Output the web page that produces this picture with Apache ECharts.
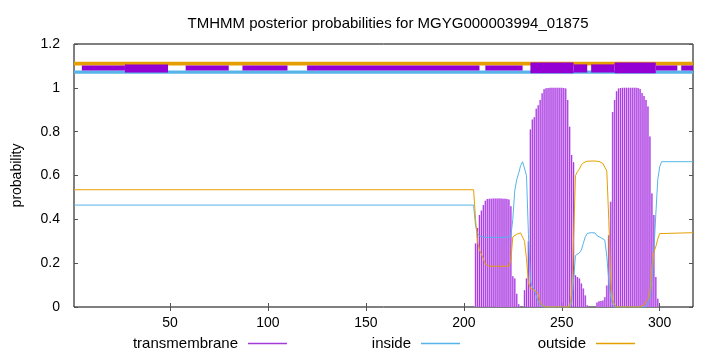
<!DOCTYPE html>
<html>
<head>
<meta charset="utf-8">
<script src="https://cdn.jsdelivr.net/npm/echarts@6/dist/echarts.min.js"></script>
<style>
html,body{margin:0;padding:0;background:#fff;}
#chart{width:720px;height:352px;}
</style>
</head>
<body>
<div id="chart"></div>
<script>
// ---- data ----
const titleText = 'TMHMM posterior probabilities for MGYG000003994_01875';
const xTicks = [50, 100, 150, 200, 250, 300];
const seqStart = 1;
const seqEnd = 317;

const residues = [1,205,206,207,208,209,210,211,212,213,214,215,216,217,218,219,220,221,222,223,224,225,226,227,228,229,230,
231,232,233,234,235,236,237,238,239,240,241,242,243,244,245,246,247,248,249,250,251,252,253,254,255,256,257,258,259,260,
261,262,263,264,265,266,267,268,269,270,271,272,273,274,275,276,277,278,279,280,281,282,283,284,285,286,287,288,289,290,
291,292,293,294,295,296,297,298,299,300,301,317];

const transmembrane = [0,0,0.29,0.36,0.42,0.44,0.465,0.485,0.493,0.494,0.494,0.495,0.495,0.495,0.495,0.495,0.494,0.494,0.493,0.49,0.46,0.14,0.13,0.06,0.013,0,0,
0.076,0.13,0.30,0.81,0.855,0.866,0.905,0.92,0.945,0.975,0.994,0.998,0.999,1,1,1,1,1,1,1,0.999,0.997,0.945,0.823,0.694,0.66,0.145,0.137,0.13,0.107,
0.084,0.053,0.008,0,0,0,0,0.02,0.026,0.027,0.03,0.045,0.098,0.327,0.48,0.89,0.945,0.984,0.997,0.999,1,1,1,1,1,1,1,1,0.999,0.995,
0.976,0.963,0.945,0.915,0.778,0.518,0.42,0.137,0.038,0,0,0];

const inside = [0.465,0.465,0.37,0.335,0.325,0.32,0.318,0.318,0.318,0.318,0.318,0.318,0.318,0.318,0.318,0.318,0.318,0.318,0.318,0.318,0.32,0.40,0.53,0.58,0.61,0.645,0.663,
0.66,0.60,0.33,0.12,0.09,0.08,0.05,0.025,0.01,0.004,0,0,0,0,0,0,0,0,0,0,0,0,0,0,0.01,0.12,0.235,0.244,0.247,0.26,
0.29,0.32,0.336,0.339,0.339,0.339,0.338,0.325,0.318,0.316,0.312,0.305,0.23,0.12,0.046,0.01,0,0,0,0,0,0,0,0,0,0,0,0,0,0,
0,0,0,0.02,0.04,0.12,0.25,0.42,0.58,0.64,0.663,0.663];

const outside = [0.535,0.535,0.40,0.30,0.26,0.24,0.22,0.195,0.188,0.186,0.186,0.186,0.186,0.186,0.186,0.186,0.186,0.186,0.186,0.187,0.21,0.32,0.328,0.332,0.336,0.338,0.336,
0.30,0.22,0.11,0.085,0.08,0.076,0.07,0.06,0.02,0.008,0.003,0,0,0,0,0,0,0,0,0,0,0,0,0,0.06,0.30,0.60,0.617,0.63,0.648,
0.658,0.663,0.665,0.666,0.666,0.666,0.666,0.665,0.664,0.66,0.655,0.648,0.62,0.40,0.12,0.03,0.01,0,0,0,0,0,0,0,0,0,0,0,0,0,
0,0.01,0.025,0.035,0.07,0.18,0.25,0.275,0.31,0.335,0.339,0.339];

// topology band segments (residue start, residue end)
const outsideBand = [[1, 317]];
const insideBand = [[1, 317]];
const membraneThin = [[5,27],[58,80],[87,110],[120,208],[211,230],[298,309],[311,317]];
const membraneMid = [[27,49],[256,263],[265,277]];
const membraneThick = [[234,256],[277,298]];

// ---- chart ----
const FONT = 'Liberation Sans, Arial, Helvetica, sans-serif';
const C_TM = '#9400d3', C_IN = '#56b4e9', C_OUT = '#e69f00', C_TM_KEY = '#a33bdb';

const tmPairs = residues.map((r, i) => [r, transmembrane[i]]);
const inPairs = residues.map((r, i) => [r, inside[i]]);
const outPairs = residues.map((r, i) => [r, outside[i]]);

function band(yTop, yBot, color) {
  return function (params, api) {
    const p0 = api.coord([api.value(0), yTop]);
    const p1 = api.coord([api.value(1), yBot]);
    return { type: 'rect', shape: { x: p0[0], y: p0[1], width: p1[0] - p0[0], height: p1[1] - p0[1] },
             style: { fill: color } };
  };
}

function keyPath() { return 'path://M0,0L40,0L40,1.5L0,1.5Z'; }

function legendFor(name, color, right) {
  return {
    data: [{ name: name, icon: keyPath(), itemStyle: { color: color, borderWidth: 0, opacity: 1 },
             lineStyle: { color: color, width: 0, opacity: 0 } }],
    right: right, top: 331, align: 'right', itemWidth: 39, itemHeight: 2, selectedMode: false,
    inactiveColor: color,
    textStyle: { fontFamily: FONT, fontSize: 15, color: '#000', padding: [0, 5, 0, 0] }
  };
}

const tickStyle = { show: true, inside: true, length: 4, lineStyle: { color: '#555', width: 1 } };

const chart = echarts.init(document.getElementById('chart'), null, { renderer: 'canvas' });
chart.setOption({
  animation: false,
  backgroundColor: '#fff',
  title: {
    text: titleText, left: 383, top: 11, textAlign: 'center',
    textStyle: { fontFamily: FONT, fontSize: 15, fontWeight: 'normal', color: '#000' }
  },
  grid: { left: 74, right: 27, top: 44, bottom: 45, show: true, borderColor: '#000', borderWidth: 1, backgroundColor: 'transparent' },
  legend: [
    legendFor('transmembrane', C_TM_KEY, 428),
    legendFor('inside', C_IN, 255),
    legendFor('outside', C_OUT, 80)
  ],
  xAxis: [
    { type: 'value', min: seqStart, max: seqEnd, position: 'bottom',
      axisLine: { show: false }, splitLine: { show: false },
      axisTick: Object.assign({ customValues: xTicks }, tickStyle),
      axisLabel: { customValues: xTicks, fontFamily: FONT, fontSize: 14, color: '#000', margin: 9 } },
    { type: 'value', min: seqStart, max: seqEnd, position: 'top',
      axisLine: { show: false }, splitLine: { show: false },
      axisTick: Object.assign({ customValues: xTicks }, tickStyle),
      axisLabel: { show: false } }
  ],
  yAxis: [
    { type: 'value', min: 0, max: 1.2, interval: 0.2, position: 'left',
      axisLine: { show: false }, splitLine: { show: false }, axisTick: tickStyle,
      axisLabel: { fontFamily: FONT, fontSize: 14, color: '#000', margin: 14 },
      name: 'probability', nameLocation: 'middle', nameGap: 50, nameRotate: 90,
      nameTextStyle: { fontFamily: FONT, fontSize: 14, color: '#000' } },
    { type: 'value', min: 0, max: 1.2, interval: 0.2, position: 'right',
      axisLine: { show: false }, splitLine: { show: false }, axisTick: tickStyle,
      axisLabel: { show: false } }
  ],
  series: [
    { name: 'transmembrane', type: 'bar', xAxisIndex: 0, yAxisIndex: 0, data: tmPairs, barWidth: 2,
      itemStyle: { color: '#dca8f2' }, z: 2, silent: true },
    { name: 'transmembrane', type: 'bar', xAxisIndex: 1, yAxisIndex: 0, data: tmPairs, barWidth: 1,
      itemStyle: { color: '#a838e2' }, z: 2, silent: true },
    { name: 'inside', type: 'line', data: inPairs, symbol: 'none', showSymbol: false,
      lineStyle: { color: C_IN, width: 1 }, itemStyle: { color: C_IN }, z: 3, silent: true },
    { name: 'outside', type: 'line', data: outPairs, symbol: 'none', showSymbol: false,
      lineStyle: { color: C_OUT, width: 1 }, itemStyle: { color: C_OUT }, z: 4, silent: true },
    { type: 'custom', data: insideBand, renderItem: band(1.079, 1.064, C_IN), z: 5, silent: true },
    { type: 'custom', data: outsideBand, renderItem: band(1.119, 1.102, C_OUT), z: 5, silent: true },
    { type: 'custom', data: membraneThin, renderItem: band(1.102, 1.079, C_TM), z: 6, silent: true },
    { type: 'custom', data: membraneMid, renderItem: band(1.107, 1.070, C_TM), z: 6, silent: true },
    { type: 'custom', data: membraneThick, renderItem: band(1.116, 1.067, C_TM), z: 6, silent: true }
  ]
});
</script>
</body>
</html>
